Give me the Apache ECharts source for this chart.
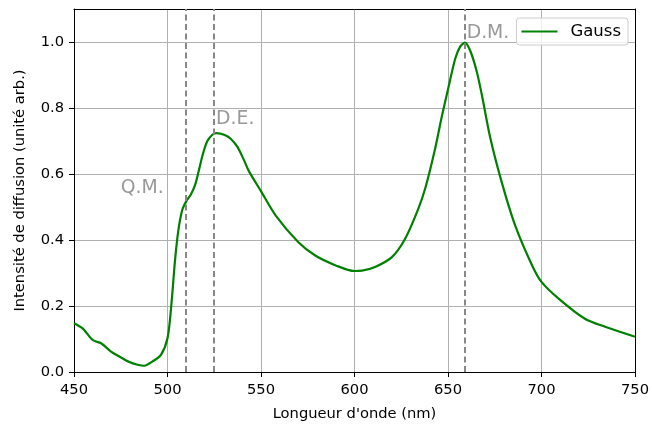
<!DOCTYPE html>
<html><head><meta charset="utf-8">
<script src="https://cdn.jsdelivr.net/npm/echarts@6/dist/echarts.min.js"></script>
<style>html,body{margin:0;padding:0;background:#fff}#c{width:652px;height:427px}</style>
</head><body><div id="c"></div>
<script>
const wavelengths = [450, 454.6, 460, 464.5, 469.8, 474.2, 479.6, 484, 487.6, 492, 496.5, 500, 502, 504.1, 505.9, 508, 510.1, 512.5, 514.8, 516.9, 519, 521.3, 524, 526.2, 530.3, 533.8, 537.4, 540.9, 543.6, 550, 558, 570, 579, 590, 600, 604, 611, 620, 627, 634, 638, 643.2, 646.7, 650.3, 653.9, 656.5, 659, 662, 665.4, 668.1, 672.6, 678.8, 686, 695, 700, 709, 723, 734, 750];
const intensity = [0.148, 0.132, 0.097, 0.087, 0.062, 0.047, 0.030, 0.022, 0.019, 0.032, 0.052, 0.102, 0.20, 0.343, 0.433, 0.493, 0.518, 0.538, 0.568, 0.614, 0.662, 0.700, 0.719, 0.724, 0.719, 0.707, 0.682, 0.642, 0.608, 0.548, 0.473, 0.393, 0.353, 0.323, 0.306, 0.307, 0.318, 0.348, 0.403, 0.493, 0.56, 0.679, 0.774, 0.864, 0.950, 0.986, 0.998, 0.972, 0.91, 0.84, 0.71, 0.574, 0.443, 0.323, 0.273, 0.223, 0.162, 0.137, 0.107];
const markerWavelengths = [510, 525, 659];
const annotationLabels = ['Q.M.', 'D.E.', 'D.M.'];
const annotationX = [475, 526, 660];
const annotationY = [0.54, 0.75, 1.01];
const xTicks = [450, 500, 550, 600, 650, 700, 750];
const yTicks = [0, 0.2, 0.4, 0.6, 0.8, 1.0];

const FONT = 'DejaVu Sans';
const chart = echarts.init(document.getElementById('c'));
const curve = wavelengths.map((w, i) => [w, intensity[i]]);
const notes = annotationLabels.map((t, i) => ({ value: [annotationX[i], annotationY[i]], name: t }));

chart.setOption({
  animation: false,
  grid: { left: 74, right: 15, top: 9, bottom: 53 },
  legend: {
    data: [{ name: 'Gauss', icon: 'rect' }],
    right: 24, top: 18,
    orient: 'vertical',
    backgroundColor: 'rgba(255,255,255,0.8)',
    borderColor: '#cccccc', borderWidth: 1, borderRadius: 3,
    padding: [5, 7, 5, 5],
    itemWidth: 36, itemHeight: 2,
    itemStyle: { color: '#008000' },
    textStyle: { fontFamily: FONT, fontSize: 16.5, color: '#000', padding: [0, 0, 0, 8] }
  },
  xAxis: [{
    type: 'value', min: xTicks[0], max: xTicks[xTicks.length - 1], interval: 50,
    name: "Longueur d'onde (nm)", nameLocation: 'middle', nameGap: 35,
    nameTextStyle: { fontFamily: FONT, fontSize: 14.7, color: '#000' },
    axisLine: { show: true, onZero: false, lineStyle: { color: '#000', width: 1 } },
    axisTick: { show: true, inside: false, length: 5, lineStyle: { color: '#000' } },
    axisLabel: { fontFamily: FONT, fontSize: 14.7, color: '#000', margin: 11 },
    splitLine: { show: true, lineStyle: { color: '#b0b0b0', width: 1 } }
  }, {
    type: 'value', position: 'top', min: xTicks[0], max: xTicks[xTicks.length - 1],
    axisLine: { show: true, onZero: false, lineStyle: { color: '#000', width: 1 } },
    axisTick: { show: false }, axisLabel: { show: false }, splitLine: { show: false }
  }],
  yAxis: [{
    type: 'value', min: 0, max: 1.1, interval: 0.2,
    name: 'Intensité de diffusion (unité arb.)', nameLocation: 'middle', nameGap: 46,
    nameTextStyle: { fontFamily: FONT, fontSize: 14.7, color: '#000' },
    axisLine: { show: true, onZero: false, lineStyle: { color: '#000', width: 1 } },
    axisTick: { show: true, length: 5, customValues: yTicks, lineStyle: { color: '#000' } },
    axisLabel: { fontFamily: FONT, fontSize: 14.7, color: '#000', margin: 10, customValues: yTicks,
      formatter: v => Number(v).toFixed(1) },
    splitLine: { show: true, lineStyle: { color: '#b0b0b0', width: 1 } }
  }, {
    type: 'value', position: 'right', min: 0, max: 1.1,
    axisLine: { show: true, onZero: false, lineStyle: { color: '#000', width: 1 } },
    axisTick: { show: false }, axisLabel: { show: false }, splitLine: { show: false }
  }],
  series: [{
    name: 'Gauss', type: 'line', data: curve, smooth: 0.3,
    symbol: 'none', color: '#008000',
    lineStyle: { color: '#008000', width: 2.2 },
    z: 3,
    markLine: {
      silent: true, symbol: 'none', label: { show: false },
      lineStyle: { color: '#888888', type: [6, 3.5], width: 2 },
      data: markerWavelengths.map(x => ({ xAxis: x }))
    }
  }, {
    name: 'notes', type: 'scatter', data: notes, symbolSize: 0, silent: true,
    label: {
      show: true, formatter: p => p.name, position: [0, 0], align: 'left', verticalAlign: 'bottom',
      offset: [0, 4], fontFamily: FONT, fontSize: 18.8, color: '#808080'
    }
  }]
});
</script>
</body></html>
